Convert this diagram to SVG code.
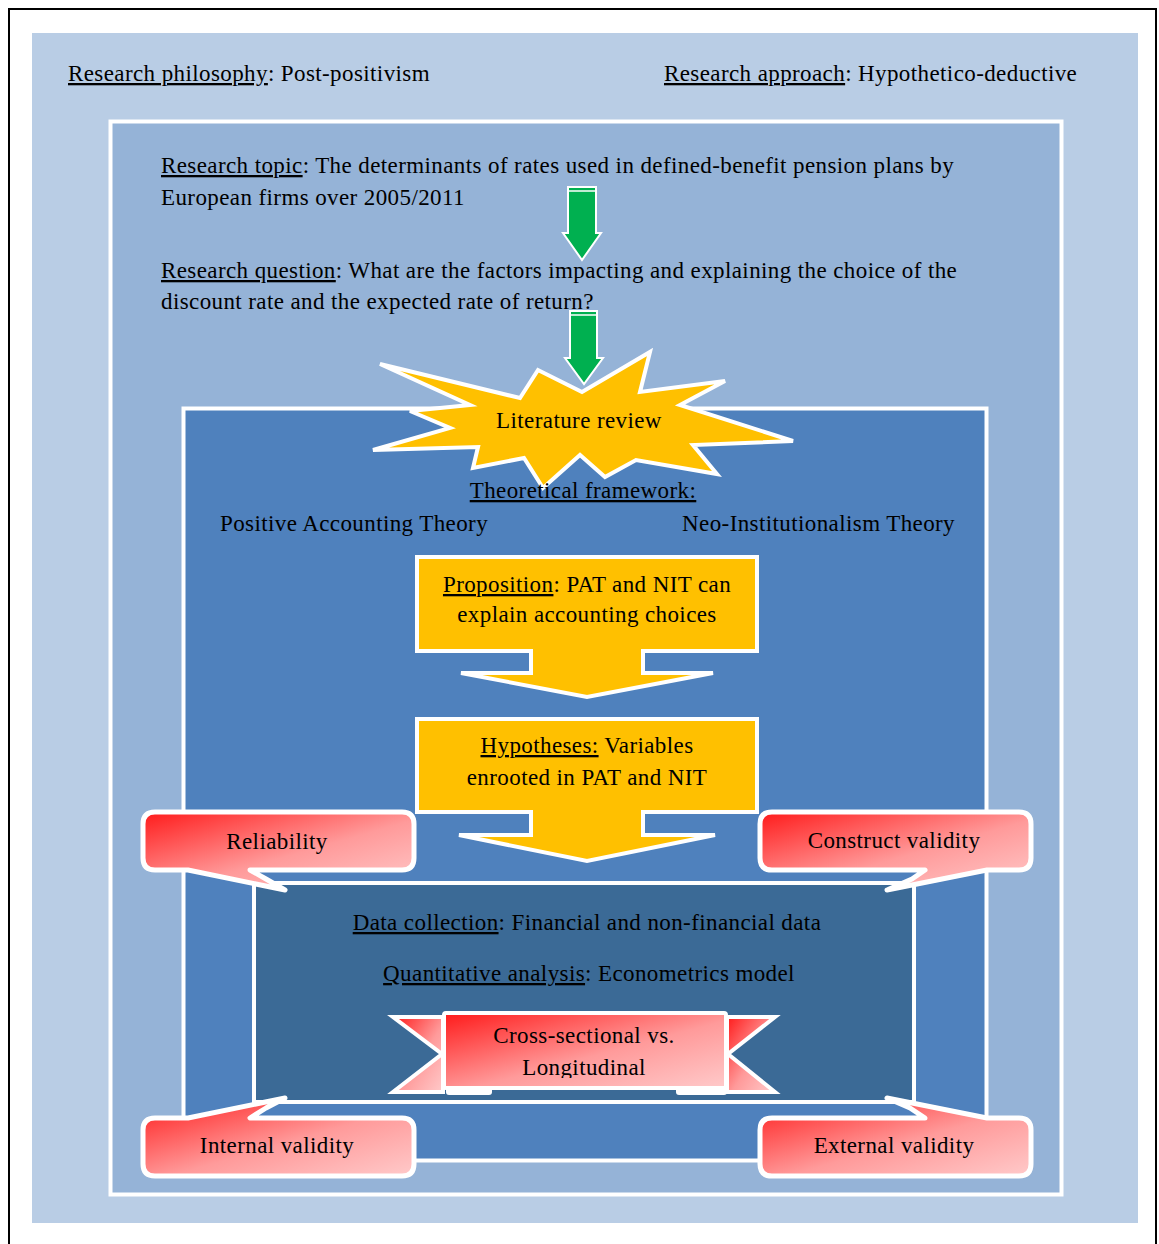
<svg xmlns="http://www.w3.org/2000/svg" width="1159" height="1244" viewBox="0 0 1159 1244">
<style>
text{font-family:"Liberation Serif","Times New Roman",serif;font-size:23px;letter-spacing:0.4px;fill:#000}
.u{text-decoration:underline}
.c{text-anchor:middle}
.wb{stroke:#fff;stroke-width:4}
.yel{fill:#FFC000;stroke:#fff;stroke-width:4;stroke-linejoin:miter}
.grn{fill:#00B050;stroke:#fff;stroke-width:2}
.call{fill:url(#rg);stroke:#fff;stroke-width:5;stroke-linejoin:round}
</style>
<defs>
<linearGradient id="rg" x1="0" y1="0" x2="1" y2="1">
<stop offset="0" stop-color="#FF1A1A"/>
<stop offset="0.55" stop-color="#FF9A9A"/>
<stop offset="1" stop-color="#FFCACA"/>
</linearGradient>
<clipPath id="rc"><rect x="440" y="1010" width="290" height="68"/></clipPath>
</defs>
<rect width="1159" height="1244" fill="#fff"/>
<path d="M9,1244 V9 H1156 V1244" fill="none" stroke="#000" stroke-width="2"/>
<g id="background">
<rect x="32" y="33" width="1106" height="1190" fill="#B9CDE5"/>
<rect x="110.5" y="121.5" width="951" height="1073" fill="#95B3D7" class="wb" stroke-width="5"/>
<rect x="183.5" y="408.5" width="803" height="752" fill="#4F81BD" class="wb"/>
<rect x="254" y="883" width="660" height="219" fill="#3B6A96" class="wb"/>
</g>
<g id="header">
<text x="68" y="81"><tspan class="u">Research philosophy</tspan>: Post-positivism</text>
<text x="664" y="81"><tspan class="u">Research approach</tspan>: Hypothetico-deductive</text>
</g>
<g id="topic">
<text x="161" y="173"><tspan class="u">Research topic</tspan>: The determinants of rates used in defined-benefit pension plans by</text>
<text x="161" y="205">European firms over 2005/2011</text>
</g>
<g id="question">
<text x="161" y="278"><tspan class="u">Research question</tspan>: What are the factors impacting and explaining the choice of the</text>
<text x="161" y="309">discount rate and the expected rate of return?</text>
</g>
<g id="connectors">
<polygon class="grn" points="568,187 596,187 596,233 601,233 582,260 563,233 568,233"/>
<line x1="569" y1="191" x2="595" y2="191" stroke="#fff" stroke-width="1.5"/>
<polygon class="grn" points="570,311 597,311 597,358 603,358 584,384 565,358 570,358"/>
<line x1="571" y1="315" x2="596" y2="315" stroke="#fff" stroke-width="1.5"/>
</g>
<g id="literature-review">
<polygon class="yel" points="380,364 520,398 538,370 582,392 650,352 640,392 725,381 680,405 793,441 693,445 717,474 636,460 605,477 580,455 543,488 524,458 473,468 478,447 373,450 450,428 410,411 470,405"/>
<text class="c" x="579" y="428">Literature review</text>
</g>
<g id="framework">
<text class="c u" x="583" y="498">Theoretical framework:</text>
<text x="220" y="531">Positive Accounting Theory</text>
<text x="955" y="531" text-anchor="end">Neo-Institutionalism Theory</text>
</g>
<g id="proposition">
<path class="yel" d="M417,557 H757 V651 H643 V673 H713 L587,697 L461,673 H531 V651 H417 Z"/>
<text class="c" x="587" y="592"><tspan class="u">Proposition</tspan>: PAT and NIT can</text>
<text class="c" x="587" y="622">explain accounting choices</text>
</g>
<g id="hypotheses">
<path class="yel" d="M417,719 H757 V812 H643 V835 H715 L587,861 L459,835 H531 V812 H417 Z"/>
<text class="c" x="587" y="753"><tspan class="u">Hypotheses:</tspan> Variables</text>
<text class="c" x="587" y="785">enrooted in PAT and NIT</text>
</g>
<g id="data">
<text class="c" x="587" y="930"><tspan class="u">Data collection</tspan>: Financial and non-financial data</text>
<text class="c" x="589" y="981"><tspan class="u">Quantitative analysis</tspan>: Econometrics model</text>
</g>
<g id="ribbon">
<polygon points="393,1017 443,1017 443,1092 393,1092 442,1054" fill="url(#rg)" stroke="#fff" stroke-width="4" stroke-linejoin="miter"/>
<polygon points="775,1017 727,1017 727,1092 775,1092 728,1054" fill="url(#rg)" stroke="#fff" stroke-width="4" stroke-linejoin="miter"/>
<rect x="444" y="1013" width="282" height="75" fill="url(#rg)" stroke="#fff" stroke-width="4" rx="2"/>
<rect x="446" y="1087" width="46" height="8" rx="3" fill="#fff"/>
<rect x="676" y="1087" width="51" height="8" rx="3" fill="#fff"/>
<text class="c" x="584" y="1043">Cross-sectional vs.</text>
<text class="c" x="584" y="1075" clip-path="url(#rc)">Longitudinal</text>
</g>
<g id="reliability">
<path class="call" d="M155,812 H402 Q414,812 414,824 V858 Q414,870 402,870 H250 L266,879 L285,890 L188,870 H155 Q143,870 143,858 V824 Q143,812 155,812 Z"/>
<text class="c" x="277" y="849">Reliability</text>
</g>
<g id="construct-validity">
<path class="call" d="M772,812 H1019 Q1031,812 1031,824 V858 Q1031,870 1019,870 H987 L887,890 L912,879 L925,870 H772 Q760,870 760,858 V824 Q760,812 772,812 Z"/>
<text class="c" x="894" y="848">Construct validity</text>
</g>
<g id="internal-validity">
<path class="call" d="M155,1118 H188 L285,1098 L266,1108 L250,1118 H402 Q414,1118 414,1130 V1164 Q414,1176 402,1176 H155 Q143,1176 143,1164 V1130 Q143,1118 155,1118 Z"/>
<text class="c" x="277" y="1153">Internal validity</text>
</g>
<g id="external-validity">
<path class="call" d="M772,1118 H925 L910,1108 L887,1098 L987,1118 H1019 Q1031,1118 1031,1130 V1164 Q1031,1176 1019,1176 H772 Q760,1176 760,1164 V1130 Q760,1118 772,1118 Z"/>
<text class="c" x="894" y="1153">External validity</text>
</g>
</svg>
